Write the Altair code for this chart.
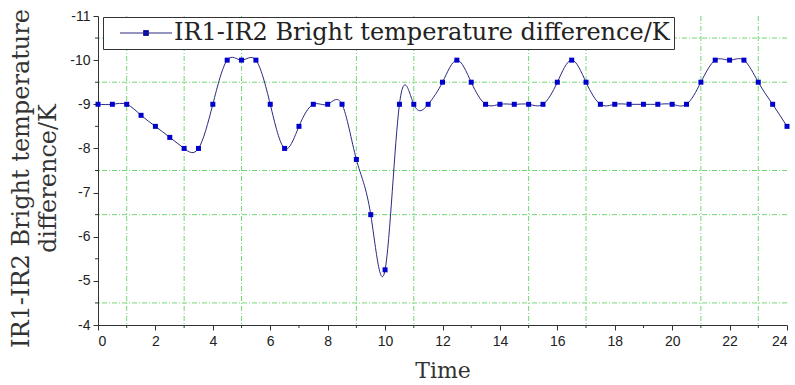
import altair as alt
import pandas as pd

times = [0, 0.5, 1, 1.5, 2, 2.5, 3, 3.5, 4, 4.5, 5, 5.5, 6, 6.5, 7, 7.5, 8, 8.5,
         9, 9.5, 10, 10.5, 11, 11.5, 12, 12.5, 13, 13.5, 14, 14.5, 15, 15.5, 16,
         16.5, 17, 17.5, 18, 18.5, 19, 19.5, 20, 20.5, 21, 21.5, 22, 22.5, 23, 23.5, 24]
values = [-9, -9, -9, -8.75, -8.5, -8.25, -8, -8, -9, -10, -10, -10, -9, -8, -8.5,
          -9, -9, -9, -7.75, -6.5, -5.25, -9, -9, -9, -9.5, -10, -9.5, -9, -9, -9,
          -9, -9, -9.5, -10, -9.5, -9, -9, -9, -9, -9, -9, -9, -9.5, -10, -10, -10,
          -9.5, -9, -8.5]
series_name = "IR1-IR2 Bright temperature difference/K"

x_ticks = [0, 2, 4, 6, 8, 10, 12, 14, 16, 18, 20, 22, 24]
y_ticks = [-11, -10, -9, -8, -7, -6, -5, -4]
x_minor = [1, 3, 5, 7, 9, 11, 13, 15, 17, 19, 21, 23]
y_minor = [-10.5, -9.5, -8.5, -7.5, -6.5, -5.5, -4.5]
x_grid = [1, 3, 5, 9, 11, 15, 17, 21, 23]
y_grid = [-10.5, -9.5, -7.5, -6.5, -4.5]

W, H = 689, 309

df = pd.DataFrame({"Time": times, "Value": values, "series": series_name})

xs = alt.Scale(domain=[0, 24], nice=False, zero=False)
ys = alt.Scale(domain=[-11, -4], reverse=True, nice=False, zero=False)

xaxis = alt.Axis(values=x_ticks, title="Time", grid=False, tickSize=5,
                 tickColor="#333", domainColor="#333", labelFont="Liberation Sans",
                 labelFontSize=14, labelColor="#222", labelPadding=4,
                 titleFont="DejaVu Serif", titleFontSize=22, titleFontWeight="normal",
                 titleColor="#333", titleY=52, titleBaseline="alphabetic")
yaxis = alt.Axis(values=y_ticks, title=["IR1-IR2 Bright temperature", "difference/K"],
                 grid=False, tickSize=5, tickColor="#333", domainColor="#333",
                 labelFont="Liberation Sans", labelFontSize=14, labelColor="#222",
                 labelPadding=3, labelExpr="toString(datum.value)",
                 titleFont="DejaVu Serif", titleFontSize=24, titleFontWeight="normal",
                 titleColor="#333", titleX=-70, titleY=162, titleAngle=270,
                 titleBaseline="alphabetic", titleLineHeight=27, titleAlign="center")

X = alt.X("Time:Q", scale=xs, axis=xaxis)
Y = alt.Y("Value:Q", scale=ys, axis=yaxis)

grid_style = dict(color="#74d674", strokeDash=[5, 2, 1, 2], strokeWidth=1)
vgrid = alt.Chart(pd.DataFrame({"Time": x_grid})).mark_rule(**grid_style).encode(x=X)
hgrid = alt.Chart(pd.DataFrame({"Value": y_grid})).mark_rule(**grid_style).encode(y=Y)

xminor = alt.Chart(pd.DataFrame({"Time": x_minor})).mark_rule(color="#333").encode(
    x=X, y=alt.value(H), y2=alt.value(H + 3))
yminor = alt.Chart(pd.DataFrame({"Value": y_minor})).mark_rule(color="#333").encode(
    y=Y, x=alt.value(-3), x2=alt.value(0))

sym = "M0.1,0 L5.3,0 M2.45,-0.25 L2.95,-0.25 L2.95,0.25 L2.45,0.25 Z"
legend = alt.Legend(title=None, orient="none", legendX=5, legendY=1, symbolType=sym,
                    symbolSize=400, symbolStrokeWidth=1, symbolFillColor="#0000cc",
                    labelFont="DejaVu Serif", labelFontSize=24, labelColor="#222",
                    labelOffset=43, labelLimit=800, padding=4, strokeColor="#333",
                    fillColor="white")

line = alt.Chart(df).mark_line(interpolate="natural", strokeWidth=1).encode(
    x=X, y=Y,
    color=alt.Color("series:N", scale=alt.Scale(domain=[series_name], range=["#2a2a80"]),
                    legend=legend))
pts = alt.Chart(df).mark_square(size=25, filled=True, color="#0000cc", opacity=1).encode(
    x=X, y=Y)

chart = alt.layer(vgrid, hgrid, xminor, yminor, line, pts).properties(
    width=W, height=H, autosize="none",
    padding={"left": 98, "top": 16, "right": 8, "bottom": 60}
).configure_view(stroke=None)

chart.save("out.html", embed_options={"renderer": "svg", "actions": False})
